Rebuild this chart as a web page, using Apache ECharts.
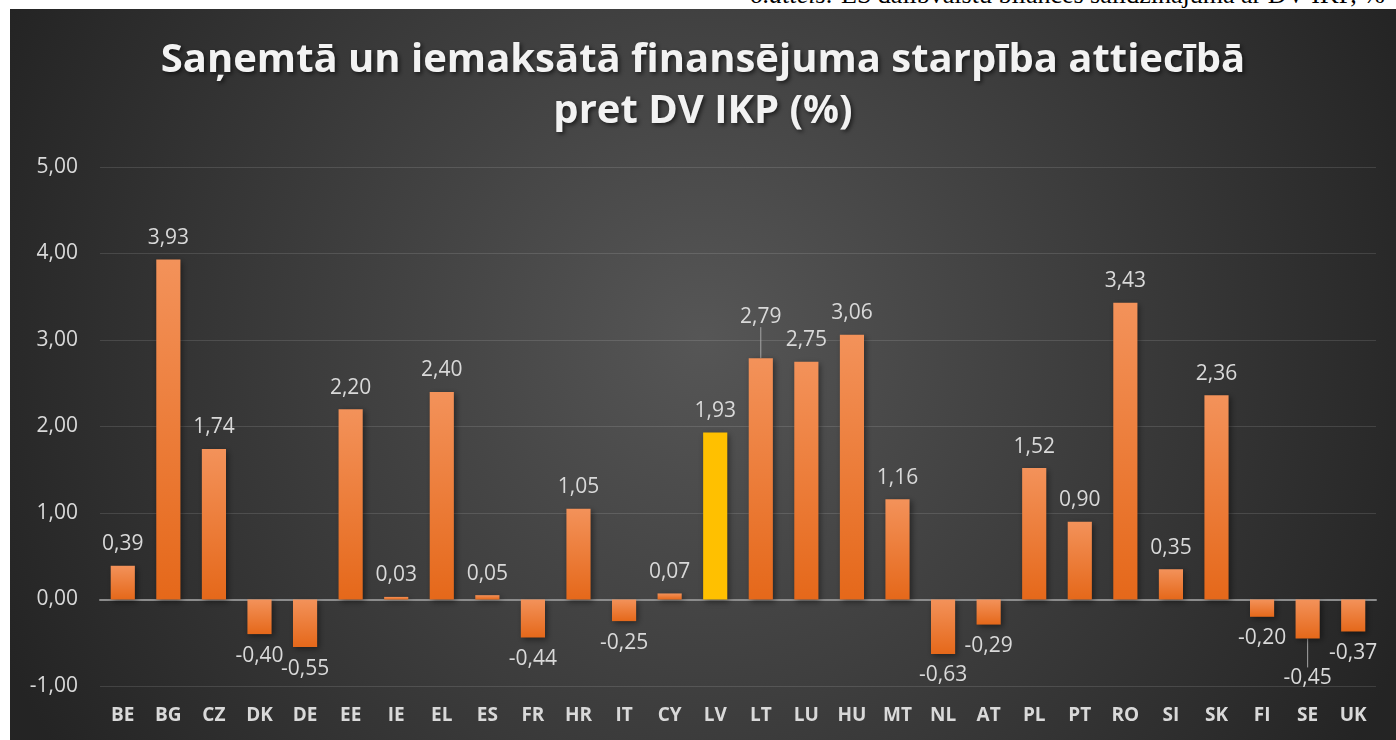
<!DOCTYPE html>
<html>
<head>
<meta charset="utf-8">
<title>Saņemtā un iemaksātā finansējuma starpība</title>
<script src="https://cdn.jsdelivr.net/npm/echarts@6/dist/echarts.min.js"></script>
<style>
  html, body { margin: 0; padding: 0; background: #fff; }
  body { width: 1396px; height: 740px; position: relative; overflow: hidden; }
  #caption {
    position: absolute; left: 0; top: 0; width: 1396px; height: 9px; overflow: hidden;
  }
  #caption span {
    position: absolute; left: 750px; top: -20px; white-space: nowrap;
    font-family: 'Liberation Serif', serif; font-size: 26px; line-height: 30px; color: #000;
  }
  #chart { position: absolute; left: 10px; top: 9px; width: 1386px; height: 731px; }
</style>
</head>
<body>
<div id="caption"><span><i>6.attēls:</i> ES dalībvalstu bilances salīdzinājumā ar DV IKP, %</span></div>
<div id="chart"></div>
<script>
const countries = ['BE', 'BG', 'CZ', 'DK', 'DE', 'EE', 'IE', 'EL', 'ES', 'FR', 'HR', 'IT', 'CY', 'LV',
  'LT', 'LU', 'HU', 'MT', 'NL', 'AT', 'PL', 'PT', 'RO', 'SI', 'SK', 'FI', 'SE', 'UK']
const balance = [0.39, 3.93, 1.74, -0.40, -0.55, 2.20, 0.03, 2.40, 0.05, -0.44, 1.05, -0.25, 0.07, 1.93,
  2.79, 2.75, 3.06, 1.16, -0.63, -0.29, 1.52, 0.90, 3.43, 0.35, 2.36, -0.20, -0.45, -0.37]
const highlight = 'LV'
// labels pushed off the bar (with a leader line) in the original
const movedLabels = { LT: -20, SE: 18 }

const orange = {
  type: 'linear', x: 0, y: 0, x2: 0, y2: 1,
  colorStops: [{ offset: 0, color: '#f3925a' }, { offset: 1, color: '#e5681a' }]
}
const fmt = v => v.toFixed(2).replace('.', ',')
const labelColor = '#d9d9d9'
const font = "'Open Sans', 'Noto Sans', sans-serif"

const chart = echarts.init(document.getElementById('chart'))

chart.setOption({
  backgroundColor: {
    type: 'radial', x: 0.5, y: 0.45, r: 1.05,
    colorStops: [{ offset: 0, color: '#565656' }, { offset: 1, color: '#242424' }]
  },
  textStyle: { fontFamily: font },
  title: {
    text: 'Saņemtā un iemaksātā finansējuma starpība attiecībā\npret DV IKP (%)',
    left: 'center',
    top: 21,
    textStyle: {
      color: '#f2f2f2',
      fontSize: 40,
      fontWeight: 'bold',
      lineHeight: 51,
      textShadowColor: 'rgba(0, 0, 0, 0.6)',
      textShadowBlur: 4,
      textShadowOffsetX: 2,
      textShadowOffsetY: 2
    }
  },
  grid: {
    left: 90,
    right: 20,
    top: 158,
    bottom: 54
  },
  xAxis: [
    {
      type: 'category',
      data: countries,
      axisLine: { show: false, onZero: false },
      axisTick: { show: false },
      axisLabel: {
        color: labelColor,
        fontSize: 19,
        fontWeight: 'bold',
        margin: 20
      }
    },
    {
      type: 'category',
      data: countries,
      position: 'bottom',
      axisLine: { onZero: true, lineStyle: { color: '#8c8c8c', width: 2 } },
      axisTick: { show: false },
      axisLabel: { show: false }
    }
  ],
  yAxis: {
    type: 'value',
    min: -1,
    max: 5,
    interval: 1,
    axisLine: { show: false },
    axisTick: { show: false },
    axisLabel: {
      color: labelColor,
      fontSize: 21,
      margin: 22,
      formatter: v => fmt(v)
    },
    splitLine: {
      lineStyle: { color: 'rgba(255, 255, 255, 0.12)', width: 1 }
    }
  },
  series: [
    {
      type: 'bar',
      barWidth: '53%',
      data: balance.map((v, i) => ({
        value: v,
        itemStyle: { color: countries[i] === highlight ? '#ffc000' : orange },
        label: { position: v >= 0 ? 'top' : 'bottom' },
        labelLine: { show: countries[i] in movedLabels }
      })),
      itemStyle: {
        shadowColor: 'rgba(0, 0, 0, 0.45)',
        shadowBlur: 6,
        shadowOffsetX: 2,
        shadowOffsetY: 2
      },
      label: {
        show: true,
        color: labelColor,
        fontSize: 21,
        distance: 11,
        formatter: p => fmt(p.value)
      },
      labelLine: {
        show: false,
        lineStyle: { color: '#a6a6a6', width: 1 }
      },
      labelLayout: p => {
        const dy = movedLabels[countries[p.dataIndex]]
        return dy ? { dy } : {}
      }
    }
  ]
})
</script>
</body>
</html>
